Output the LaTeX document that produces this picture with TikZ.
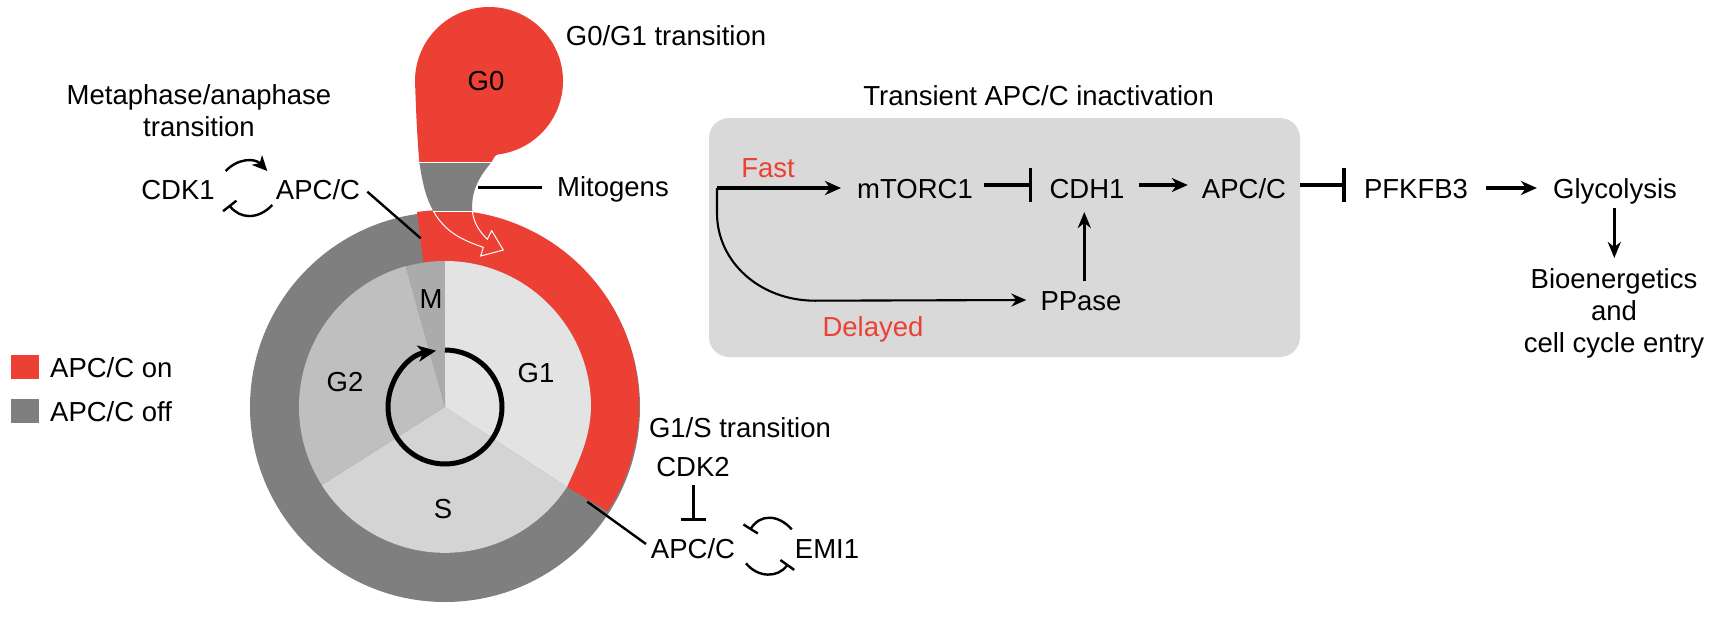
\documentclass[tikz,border=0pt]{standalone}
\usepackage{fontspec}
\setmainfont{Liberation Sans}
\usetikzlibrary{arrows.meta}
\definecolor{apcon}{HTML}{EC4034}
\definecolor{apcoff}{HTML}{7F7F7F}
\tikzset{
	lbl/.style = {align=center, inner sep=0pt, font=\fontsize{27.5}{32}\selectfont},
	caplbl/.style = {lbl, text height=20pt, text depth=0pt},% centred on cap height
	lbl_r/.style = {caplbl, text=apcon},% red label
	pathnode/.style = {caplbl, inner xsep=14pt},
	act/.style = {-{Stealth[length=16pt,width=14pt,inset=5pt]}, line width=3.3pt},
	actthin/.style = {-{Stealth[length=16pt,width=13pt,inset=5pt]}, line width=3pt},
	slowline/.style = {-{Stealth[length=15pt,width=13pt,inset=5pt]}, line width=2.1pt},
	inh/.style = {-{Bar[width=34pt,line width=3.5pt]}, line width=3.8pt},
	inhsm/.style = {-{Bar[width=25pt,line width=2.4pt]}, line width=2.4pt},
	inhloop/.style = {-{Bar[width=17pt,line width=2.4pt]}, line width=2.4pt},
	looparrow/.style = {-{Stealth[length=15pt,width=14pt,inset=4pt]}, line width=2.4pt},
	loopline/.style = {line width=2.4pt},
	cutline/.style = {white, line width=1pt}
}
\begin{document}
\begin{tikzpicture}[x=1pt,y=-1pt]
	\useasboundingbox (0,0) rectangle (1716,618);
	% cycle ring
	\fill[apcoff] (445,407) circle (195);
	\fill[apcon] (417,212) arc[start angle=-98,end angle=33,radius=195]
		-- (567,487) .. controls (578,462) and (590,440) .. (591,407)
		arc[start angle=0,end angle=-98.5,radius=146] -- cycle;
	% phases
	\fill[black!11] (445,407) -- (445,261) arc[start angle=-90,end angle=0,radius=146]
		.. controls (590,440) and (578,462) .. (567,487) -- cycle;
	\fill[black!17] (445,407) -- (567,487) arc[start angle=33.3,end angle=147.6,radius=146] -- cycle;
	\fill[black!25] (445,407) -- (321.7,485) arc[start angle=147.6,end angle=254.4,radius=146] -- cycle;
	\fill[black!33] (445,407) -- (405.7,266.4) arc[start angle=254.4,end angle=270,radius=146] -- cycle;
	% G0 lobe
	\fill[apcon] (415,81) arc[start angle=180,end angle=443,radius=74]
		.. controls (495,155) and (493,159) .. (491.7,162) -- (419.3,162)
		.. controls (417,135) and (416,110) .. (415,81) -- cycle;
	\fill[apcoff] (419.3,162) .. controls (423,187) and (427,200) .. (433.3,211)
		-- (472.3,211) .. controls (471,192) and (478,178) .. (491.7,162) -- cycle;
	\draw[cutline] (419.3,162) -- (491.7,162);
	\draw[cutline] (433.3,211) -- (472.3,211);
	\draw[cutline] (433.3,211) .. controls (445,232) and (462,240) .. (483.3,247.3)
		-- (480.7,256) -- (503.3,250) -- (491.7,230.7) -- (487.3,239.3)
		.. controls (480,232) and (474,224) .. (472.3,211);
	% clock arrow
	\draw[-{Stealth[length=18pt,width=16pt,inset=5pt]},line width=5pt] (445,350) arc[start angle=-90,end angle=261,radius=57];
	\node[caplbl] (g0) at (486,80) {G0};
	\node[caplbl] (g1) at (536,372) {G1};
	\node[caplbl] (s) at (443,508) {S};
	\node[caplbl] (g2) at (345,381) {G2};
	\node[caplbl] (m) at (431,298) {M};
	% transition labels
	\node[caplbl] (g0g1) at (666,36) {G0/G1 transition};
	\node[lbl] (meta) at (199,111) {Metaphase/anaphase\\transition};
	\node[caplbl] (g1st) at (740,427) {G1/S transition};
	\node[caplbl] (mitogens) at (613,186) {Mitogens};
	\coordinate (mitostart) at (542,187.3);
	\coordinate (mitoend) at (478.3,187.3);
	\draw[loopline] (mitostart) -- (mitoend);
	% metaphase loop
	\node[caplbl] (cdk1) at (178,189) {CDK1};
	\node[caplbl] (apcm) at (318,189) {APC/C};
	\coordinate (apcmend) at (367.3,191.7);
	\coordinate (ringm) at (420.7,238.3);
	\draw[loopline] (apcmend) -- (ringm);
	\draw[looparrow] (225.7,171) .. controls (238,158) and (255,158) .. (267.3,171);
	\draw[inhloop] (272.3,205) .. controls (258,220) and (240,219) .. (229,205);
	% G1/S loop
	\node[caplbl] (cdk2) at (693,466) {CDK2};
	\node[caplbl] (apcs) at (693,548) {APC/C};
	\node[caplbl] (emi1) at (827,548) {EMI1};
	\coordinate (rings) at (587.3,501.7);
	\coordinate (apcsend) at (646,544);
	\draw[loopline] (rings) -- (apcsend);
	\coordinate (cdk2end) at (693.3,485);
	\coordinate (apcstop) at (693.3,520.7);
	\draw[inhsm] (cdk2end) -- (apcstop);
	\draw[inhloop] (791.7,529.3) .. controls (778,514) and (760,514) .. (750,530);
	\draw[inhloop] (746,563.3) .. controls (758,578) and (778,578) .. (788,564);
	% APC/C inactivation box
	\node[caplbl] (boxtitle) at (1038.6,95) {Transient APC/C inactivation};
	\fill[black!15,rounded corners=20pt] (709,118) rectangle (1300,357);
	\node[pathnode] (mtorc) at (915,188) {mTORC1};
	\node[pathnode] (cdh) at (1087,188) {CDH1};
	\node[pathnode] (apc) at (1244,188) {APC/C};
	\node[pathnode] (ppase) at (1081,300) {PPase};
	\node[lbl_r] (fast) at (768,167) {Fast};
	\node[lbl_r] (delayed) at (873,326) {Delayed};
	\node[pathnode] (pfk) at (1416,188) {PFKFB3};
	\node[pathnode] (gly) at (1615,188) {Glycolysis};
	\node[lbl] (bio) at (1614,313) {Bioenergetics\\and\\cell cycle entry};
	\coordinate (split) at (717,188);
	\draw[slowline] (split) -- (717,213) .. controls (717,262) and (760,300.7) .. (815,300.7) -- (ppase.west);
	\draw[act,line width=4pt] (split) -- ([xshift=-2pt]mtorc.west);
	\draw[inh] ([yshift=3pt,xshift=-3pt]mtorc.east) -- ([yshift=3pt,xshift=-3pt]cdh.west);
	\draw[act] ([yshift=3pt]cdh.east) -- ([yshift=3pt]apc.west);
	\draw[inh] ([yshift=3pt]apc.east) -- ([xshift=-4pt,yshift=3pt]pfk.west);
	\draw[act] ([xshift=4pt]pfk.east) -- ([xshift=-2pt]gly.west);
	\coordinate (ppasetop) at (1084.3,281);
	\coordinate (cdhbot) at (1084.3,212);
	\draw[actthin] (ppasetop) -- (cdhbot);
	\coordinate (glybot) at (1614.3,208);
	\coordinate (biotop) at (1614.3,258);
	\draw[actthin] (glybot) -- (biotop);
	% legend
	\node[fill=apcon,minimum width=28pt,minimum height=24pt,inner sep=0pt] (onbox) at (25,367) {};
	\node[fill=apcoff,minimum width=28pt,minimum height=24pt,inner sep=0pt] (offbox) at (25,411) {};
	\node[caplbl,anchor=west] (onlbl) at (50,367) {APC/C on};
	\node[caplbl,anchor=west] (offlbl) at (50,411) {APC/C off};
\end{tikzpicture}
\end{document}
